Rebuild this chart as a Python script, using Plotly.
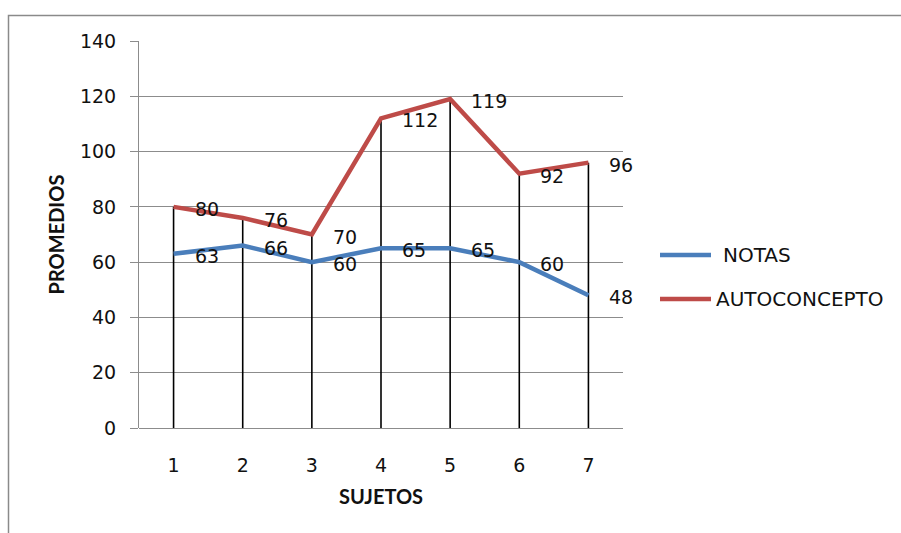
import plotly.graph_objects as go

# ---- data ----
sujetos = [1, 2, 3, 4, 5, 6, 7]
notas = [63, 66, 60, 65, 65, 60, 48]
autoconcepto = [80, 76, 70, 112, 119, 92, 96]
y_ticks = [0, 20, 40, 60, 80, 100, 120, 140]
series_names = ["NOTAS", "AUTOCONCEPTO"]

BLUE = "#4A7EBB"
RED = "#BE4B48"
GRID = "#8C8C8C"
TICKFONT = "DejaVu Sans"
TITLEFONT = "Lato"

W, H = 901, 533
L, R, T, B = 139, 278, 41, 105
pw = W - L - R
ph = H - T - B


def px_x(p):
    return (p - L) / pw


def px_y(p):
    return (H - B - p) / ph


fig = go.Figure()

# drop lines (from 0 to the highest series value at each category)
dx, dy = [], []
for x, a, b in zip(sujetos, notas, autoconcepto):
    dx += [x, x, None]
    dy += [0, max(a, b), None]
fig.add_trace(go.Scatter(x=dx, y=dy, mode="lines",
                         line=dict(color="black", width=1.6),
                         showlegend=False, hoverinfo="skip"))

fig.add_trace(go.Scatter(x=sujetos, y=notas, mode="lines", name=series_names[0],
                         line=dict(color=BLUE, width=4.5), showlegend=False))
fig.add_trace(go.Scatter(x=sujetos, y=autoconcepto, mode="lines", name=series_names[1],
                         line=dict(color=RED, width=4.5), showlegend=False))

annotations = []
for vals in (notas, autoconcepto):
    for x, v in zip(sujetos, vals):
        annotations.append(dict(x=x, y=v, xref="x", yref="y", text=str(v),
                                showarrow=False, xanchor="left", yanchor="middle",
                                xshift=19, yshift=-2,
                                font=dict(family=TICKFONT, size=19, color="#111")))

# manual legend
shapes = []
leg = [(series_names[0], BLUE, 255, 721), (series_names[1], RED, 299, 714)]
for name, col, ypix, txt_x in leg:
    shapes.append(dict(type="line", xref="paper", yref="paper",
                       x0=px_x(660), x1=px_x(711), y0=px_y(ypix), y1=px_y(ypix),
                       line=dict(color=col, width=4.5)))
    annotations.append(dict(x=px_x(txt_x), y=px_y(ypix), xref="paper", yref="paper",
                            text=name, showarrow=False, xanchor="left", yanchor="middle",
                            font=dict(family=TICKFONT, size=20, color="#111")))

# outer frame
shapes.append(dict(type="rect", xref="paper", yref="paper",
                   x0=px_x(8.5), x1=px_x(W + 20), y0=px_y(H + 20), y1=px_y(15.5),
                   line=dict(color="#8A8A8A", width=1.5), fillcolor="rgba(0,0,0,0)"))

fig.update_layout(
    width=W, height=H,
    margin=dict(l=L, r=R, t=T, b=B),
    paper_bgcolor="white", plot_bgcolor="white",
    showlegend=False,
    annotations=annotations,
    shapes=shapes,
    xaxis=dict(range=[0.5, 7.5], tickvals=sujetos, ticktext=[str(s) for s in sujetos],
               showgrid=False, zeroline=False, showline=False,
               ticks="", ticklabelstandoff=24,
               tickfont=dict(family=TICKFONT, size=19, color="#111"),
               title=dict(text="<b>SUJETOS</b>", standoff=14,
                          font=dict(family=TITLEFONT, size=20, color="#111"))),
    yaxis=dict(range=[0, 140], tickvals=y_ticks, showgrid=True, gridcolor=GRID, gridwidth=1,
               zeroline=True, zerolinecolor=GRID, zerolinewidth=1,
               showline=True, linecolor=GRID, linewidth=1,
               ticks="outside", ticklen=8, tickcolor=GRID, ticklabelstandoff=10,
               tickfont=dict(family=TICKFONT, size=19, color="#111"),
               title=dict(text="<b>PROMEDIOS</b>", standoff=9,
                          font=dict(family=TITLEFONT, size=20, color="#111"))),
)

fig.write_html("out.html")
